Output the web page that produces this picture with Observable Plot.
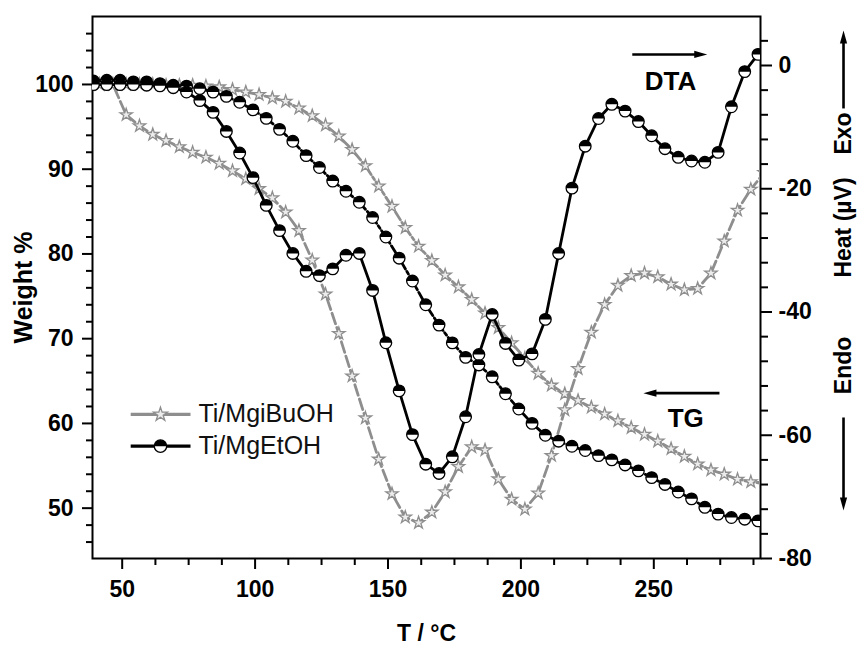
<!DOCTYPE html>
<html><head><meta charset="utf-8">
<script src="https://cdn.jsdelivr.net/npm/d3@7"></script>
<script src="https://cdn.jsdelivr.net/npm/@observablehq/plot@0.6"></script>
<style>body{margin:0;background:#fff}#chart{width:861px;height:648px}</style>
</head><body><div id="chart"></div>
<script>
// ---- data ----
const blackT = [39.2,44.2,49.2,54.2,59.2,64.2,69.2,74.2,79.2,84.2,89.2,94.2,99.2,104.2,109.2,114.2,119.2,124.2,129.2,134.2,139.2,144.2,149.2,154.2,159.2,164.2,169.2,174.2,179.2,184.2,189.2,194.2,199.2,204.2,209.2,214.2,219.2,224.2,229.2,234.2,239.2,244.2,249.2,254.2,259.2,264.2,269.2,274.2,279.2,284.2,289.2];
const etohTG = [100.4,100.5,100.5,100.3,100.3,100.1,99.9,99.8,99.5,99.1,98.6,97.9,97.0,96.0,94.7,93.3,91.6,90.2,88.6,87.4,86.1,84.3,82.0,79.5,76.8,74.0,71.6,69.5,67.8,66.9,65.5,63.5,61.7,60.0,58.6,57.9,57.3,56.8,56.2,55.7,55.1,54.4,53.6,52.8,51.9,51.1,50.1,49.3,48.9,48.7,48.5];
const etohDTA = [-3.1,-3.1,-3.1,-3.1,-3.2,-3.3,-3.6,-4.3,-5.7,-7.6,-10.7,-14.2,-18.2,-22.7,-26.8,-30.5,-33.4,-34.1,-33.0,-30.8,-30.5,-36.5,-45.0,-52.8,-59.9,-64.7,-66.2,-63.5,-57.0,-46.9,-40.4,-45.1,-47.8,-46.8,-41.2,-30.5,-19.9,-13.1,-8.6,-6.3,-7.4,-9.1,-11.4,-13.5,-14.9,-15.5,-15.7,-14.1,-6.7,-1.0,1.8];
const grayT = [36.5,41.5,46.5,51.5,56.5,61.5,66.5,71.5,76.5,81.5,86.5,91.5,96.5,101.5,106.5,111.5,116.5,121.5,126.5,131.5,136.5,141.5,146.5,151.5,156.5,161.5,166.5,171.5,176.5,181.5,186.5,191.5,196.5,201.5,206.5,211.5,216.5,221.5,226.5,231.5,236.5,241.5,246.5,251.5,256.5,261.5,266.5,271.5,276.5,281.5,286.5,291.5];
const ibuTG = [100.0,100.0,100.0,100.0,100.0,100.0,99.9,99.9,99.9,99.8,99.7,99.4,99.1,98.8,98.4,98.0,97.2,96.3,95.2,93.9,92.3,90.4,88.0,85.6,83.1,80.9,79.2,77.5,76.1,74.6,73.0,71.3,69.5,67.7,65.9,64.5,63.5,62.7,61.9,61.1,60.3,59.5,58.7,57.9,57.0,56.1,55.2,54.5,54.0,53.4,53.1,52.9];
const ibuDTA = [-3.1,-3.1,-3.1,-8.0,-9.8,-11.2,-12.2,-13.2,-14.1,-14.9,-15.9,-17.1,-18.4,-20.0,-21.5,-23.8,-26.8,-31.6,-37.1,-43.5,-50.4,-57.2,-63.9,-69.5,-73.3,-74.2,-72.5,-69.2,-65.1,-61.9,-62.4,-67.1,-70.4,-72.0,-69.4,-63.3,-55.9,-49.2,-43.3,-38.8,-35.7,-34.1,-33.7,-34.3,-35.5,-36.4,-36.2,-33.7,-28.5,-23.5,-20.1,-17.4];

const seriesNames = ["Ti/MgiBuOH", "Ti/MgEtOH"];
const xMajor = [50,100,150,200,250];
const xMinor = [62.5,75,87.5,112.5,125,137.5,162.5,175,187.5,212.5,225,237.5,262.5,275,287.5];
const yMajor = [50,60,70,80,90,100];
const yMinor = [46,48,52,54,56,58,62,64,66,68,72,74,76,78,82,84,86,88,92,94,96,98,102,104,106];
const heatMajor = [-80,-60,-40,-20,0];
const heatMinor = [-76,-72,-68,-64,-56,-52,-48,-44,-36,-32,-28,-24,-16,-12,-8,-4,4];

const xDomain = [38.83, 290.14];
const yDomain = [44.06, 108.02];
const heatDomain = [-80, 7.95];

// ---- annotations (data units) ----
const legendRows = [{label: seriesNames[0], W: 61.06}, {label: seriesNames[1], W: 57.32}];
const legendX = {x1: 53.2, x2: 75.7, marker: 64.4, text: 78.7};
const shafts = [
  {x1: 241.9, y1: 103.54, x2: 267.5, y2: 103.54},
  {x1: 274.7, y1: 63.57, x2: 248.7, y2: 63.57},
  {x1: 321.37, y1: 97.17, x2: 321.37, y2: 105.6},
  {x1: 321.37, y1: 60.7, x2: 321.37, y2: 50.5}
];
const heads = [
  {x: 270.1, y: 103.54, rot: 90},
  {x: 246.1, y: 63.57, rot: -90},
  {x: 321.37, y: 106.37, rot: 0},
  {x: 321.37, y: 49.73, rot: 180}
];
const labels = [
  {x: 256.3, y: 100.35, text: "DTA"},
  {x: 262.0, y: 60.59, text: "TG"}
];
const sideLabels = [
  {y: 94.22, text: "Exo"},
  {y: 83.12, text: "Heat (µV)"},
  {y: 66.84, text: "Endo"}
];

// ---- build ----
const toW = d3.scaleLinear().domain(heatDomain).range(yDomain);
const rows = (T, V, conv) => T.map((t, i) => ({T: t, W: conv ? toW(V[i]) : V[i]}));
const ibuTGd = rows(grayT, ibuTG, false);
const ibuDTAd = rows(grayT, ibuDTA, true);
const etohTGd = rows(blackT, etohTG, false);
const etohDTAd = rows(blackT, etohDTA, true);
const etohAll = etohTGd.concat(etohDTAd);
const ibuAll = ibuTGd.concat(ibuDTAd);

const topHalf = {draw(ctx, size) { const r = Math.sqrt(size / Math.PI); ctx.moveTo(-r, 0); ctx.arc(0, 0, r, Math.PI, 2 * Math.PI); ctx.closePath(); }};
const head = {draw(ctx) { ctx.moveTo(0, 0); ctx.lineTo(3.6, 13); ctx.lineTo(-3.6, 13); ctx.closePath(); }};

const gray = "#8e8e8e";
const font = "'Liberation Sans', Arial, Helvetica, sans-serif";
const noLabel = () => "";

const chart = Plot.plot({
  width: 861, height: 648,
  marginTop: 16, marginBottom: 90, marginLeft: 92, marginRight: 101,
  x: {domain: xDomain},
  y: {domain: yDomain},
  style: {fontFamily: font, fontSize: "23px", fontWeight: "bold", color: "#000", background: "#fff", overflow: "visible"},
  marks: [
    Plot.axisX({ticks: xMinor, tickSize: 7, tickFormat: noLabel, strokeWidth: 2, label: null}),
    Plot.axisX({ticks: xMajor, tickSize: 11, tickPadding: 11, strokeWidth: 2, label: null, fontSize: 23}),
    Plot.axisY({anchor: "left", ticks: yMinor, tickSize: 6, tickFormat: noLabel, strokeWidth: 2, label: null}),
    Plot.axisY({anchor: "left", ticks: yMajor, tickSize: 10, tickPadding: 9, strokeWidth: 2, label: null, fontSize: 23}),
    Plot.axisY({anchor: "right", ticks: heatMinor.map(toW), tickSize: 7, tickFormat: noLabel, strokeWidth: 2, label: null}),
    Plot.axisY({anchor: "right", ticks: heatMajor.map(toW), tickSize: 11, tickPadding: 7, strokeWidth: 2, label: null, fontSize: 23,
      tickFormat: w => String(Math.round(toW.invert(w)) || 0)}),
    Plot.frame({strokeWidth: 2}),
    // gray series
    Plot.line(ibuDTAd, {x: "T", y: "W", stroke: gray, strokeWidth: 2.8, strokeDasharray: "11,4", clip: true}),
    Plot.line(ibuTGd, {x: "T", y: "W", stroke: gray, strokeWidth: 2.8, strokeDasharray: "9,3,3,3", clip: true}),
    Plot.dot(ibuAll, {x: "T", y: "W", symbol: "star", r: 3.9, fill: "#ececec", stroke: gray, strokeWidth: 1.3, clip: true}),
    // black series
    Plot.line(etohDTAd, {x: "T", y: "W", stroke: "#000", strokeWidth: 2.8, clip: true}),
    Plot.line(etohTGd, {x: "T", y: "W", stroke: "#000", strokeWidth: 2.8, strokeDasharray: "9,3,3,3", clip: true}),
    Plot.dot(etohAll, {x: "T", y: "W", symbol: "circle", r: 5.8, fill: "#fff", stroke: "#000", strokeWidth: 1.3, clip: true}),
    Plot.dot(etohAll, {x: "T", y: "W", symbol: topHalf, r: 5.8, fill: "#000", clip: true}),
    // legend
    Plot.link(legendRows, {x1: () => legendX.x1, x2: () => legendX.x2, y1: "W", y2: "W",
      stroke: (d, i) => i === 0 ? gray : "#000", strokeWidth: 3.2, strokeDasharray: (d, i) => i === 0 ? "9,3" : null}),
    Plot.dot([legendRows[0]], {x: () => legendX.marker, y: "W", symbol: "star", r: 4.4, fill: "#ececec", stroke: gray, strokeWidth: 1.3}),
    Plot.dot([legendRows[1]], {x: () => legendX.marker, y: "W", symbol: "circle", r: 6.2, fill: "#fff", stroke: "#000", strokeWidth: 1.3}),
    Plot.dot([legendRows[1]], {x: () => legendX.marker, y: "W", symbol: topHalf, r: 6.2, fill: "#000"}),
    Plot.text(legendRows, {x: () => legendX.text, y: "W", text: "label", textAnchor: "start", fontSize: 25, fontWeight: "normal", fill: "#111"}),
    // annotations
    Plot.link(shafts, {x1: "x1", y1: "y1", x2: "x2", y2: "y2", stroke: "#000", strokeWidth: 2.6}),
    Plot.dot(heads, {x: "x", y: "y", rotate: "rot", symbol: head, fill: "#000"}),
    Plot.text(labels, {x: "x", y: "y", text: "text", fontSize: 26, fontWeight: "bold"}),
    Plot.text(sideLabels, {frameAnchor: "right", dx: 83, y: "y", text: "text", rotate: -90, textAnchor: "middle", lineAnchor: "middle", fontSize: 23, fontWeight: "bold"}),
    Plot.text(["Weight %"], {frameAnchor: "left", dx: -69, rotate: -90, textAnchor: "middle", lineAnchor: "middle", text: d => d, fontSize: 25, fontWeight: "bold"}),
    Plot.text(["T / °C"], {frameAnchor: "bottom", dy: 75, textAnchor: "middle", lineAnchor: "middle", text: d => d, fontSize: 23, fontWeight: "bold"})
  ]
});
document.getElementById("chart").appendChild(chart);
</script></body></html>
